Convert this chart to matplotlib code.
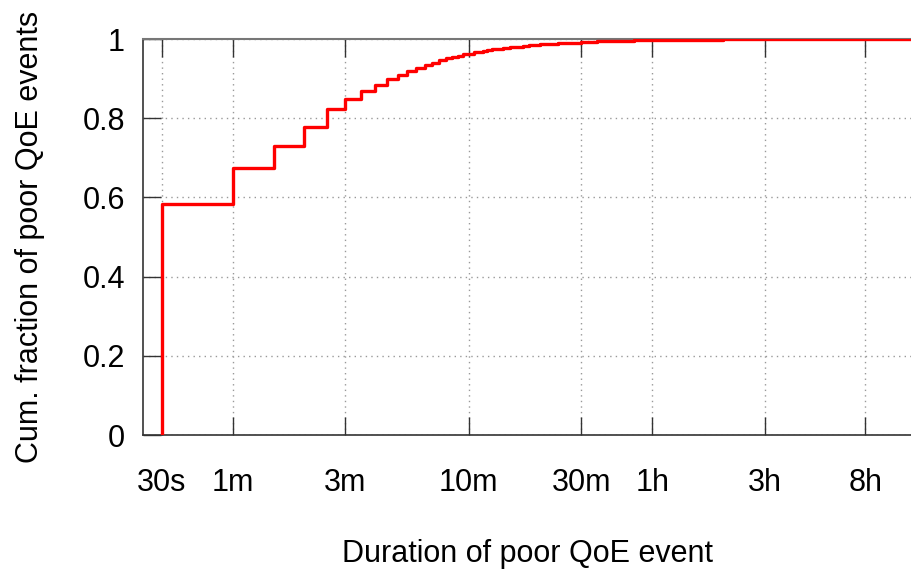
import matplotlib
matplotlib.use("Agg")
import matplotlib.pyplot as plt

# Duration (seconds) at which each CDF step occurs, and the cumulative fraction after it
durations = [30, 60, 90, 120, 150, 180, 210, 240, 270, 300, 330, 360, 390, 420,
             450, 480, 510, 540, 570, 600, 630, 660, 690, 720, 750, 780, 810,
             840, 870, 900, 960, 1020, 1080, 1140, 1200, 1320, 1440, 1560,
             1680, 1800, 2100, 2400, 2700, 3000, 3600, 5400, 7200, 14400, 28800]
cum_fraction = [0.584, 0.675, 0.731, 0.778, 0.823, 0.849, 0.868, 0.884, 0.898,
                0.909, 0.918, 0.926, 0.934, 0.940, 0.946, 0.951, 0.955, 0.958,
                0.961, 0.963, 0.966, 0.968, 0.970, 0.972, 0.974, 0.975, 0.976,
                0.977, 0.978, 0.979, 0.981, 0.983, 0.984, 0.985, 0.987, 0.988,
                0.989, 0.990, 0.991, 0.993, 0.994, 0.995, 0.996, 0.997, 0.998,
                0.9985, 0.999, 0.9995, 1.0]

xtick_values = [30, 60, 180, 600, 1800, 3600, 10800, 28800]
xtick_labels = ["30s", "1m", "3m", "10m", "30m", "1h", "3h", "8h"]
ytick_values = [0, 0.2, 0.4, 0.6, 0.8, 1.0]
ytick_labels = ["0", "0.2", "0.4", "0.6", "0.8", "1"]

plt.rcParams['font.family'] = ['Liberation Sans', 'DejaVu Sans']

fig = plt.figure(figsize=(9.11, 5.72), dpi=100)
ax = fig.add_axes([0.157, 0.2395, 0.843, 0.6923])

xmin, xmax = 25, 45000
xs = [durations[0]] + durations + [xmax]
ys = [0.0] + cum_fraction + [cum_fraction[-1]]
ax.step(xs, ys, where='post', color='#ff0000', lw=2.4, zorder=3)

ax.set_xscale('log')
ax.set_xlim(xmin, xmax)
ax.set_ylim(0, 1)
ax.set_xticks(xtick_values)
ax.set_xticklabels(xtick_labels)
ax.minorticks_off()
ax.set_yticks(ytick_values)
ax.set_yticklabels(ytick_labels)

ax.tick_params(axis='both', which='major', direction='in', length=13, width=1,
               labelsize=22, color='#333333', top=True, right=False)
ax.tick_params(axis='x', pad=24)
ax.tick_params(axis='y', pad=13)

ax.grid(True, linestyle=(0, (1, 3)), color='#999999', lw=1)
for s in ['left', 'bottom']:
    ax.spines[s].set_color('#333333')
    ax.spines[s].set_linewidth(1.2)
ax.spines['top'].set_color('#777777')
ax.spines['top'].set_linewidth(1.5)
ax.spines['right'].set_visible(False)

ax.set_xlabel("Duration of poor QoE event", fontsize=22, labelpad=29)
ax.set_ylabel("Cum. fraction of poor QoE events", fontsize=22, labelpad=27)

fig.savefig("out.png", dpi=100)
